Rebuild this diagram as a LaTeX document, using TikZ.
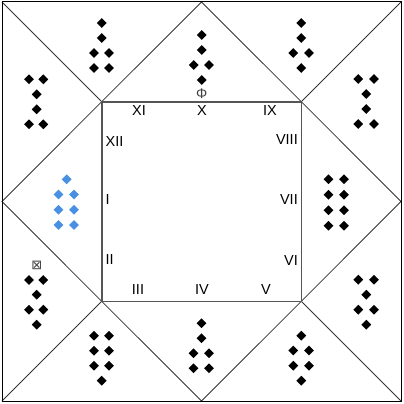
\documentclass[tikz,border=0pt]{standalone}
\usepackage{fontspec}
\setmainfont{Liberation Sans}
\newfontfamily\symfont{DejaVu Sans}
\usetikzlibrary{shapes.geometric}
\definecolor{pipblue}{RGB}{74,144,226}
\definecolor{rimgray}{RGB}{85,85,85}

\begin{document}
\begin{tikzpicture}[x=1pt, y=-1pt,
  every node/.style={font=\fontsize{14.5}{16}\selectfont},
  pip/.style={diamond, fill=black, inner sep=0pt, minimum size=10pt},
  bluepip/.style={pip, fill=pipblue},
  hour/.style={inner sep=0pt},
  mark sign/.style={inner sep=0pt, text=black!75},
  fold/.style={draw=black!80, line width=0.8pt},
  rim/.style={draw=rimgray, line width=1.6pt},
  frame/.style={draw=black, line width=1pt}]
\useasboundingbox (0,0) rectangle (404,404);

\coordinate (o-tl) at (2,2);
\coordinate (o-tr) at (401,2);
\coordinate (o-br) at (401,401);
\coordinate (o-bl) at (2,401);
\coordinate (m-n) at (201.5,2);
\coordinate (m-e) at (401,201.5);
\coordinate (m-s) at (201.5,401);
\coordinate (m-w) at (2,201.5);
\coordinate (i-tl) at (101.7,101.7);
\coordinate (i-tr) at (301.3,101.7);
\coordinate (i-br) at (301.3,301.3);
\coordinate (i-bl) at (101.7,301.3);

\draw[fold] (m-w) -- (i-tl) -- (m-n) -- (i-tr) -- (m-e) -- (i-br) -- (m-s) -- (i-bl) -- cycle;
\draw[fold] (o-tl) -- (i-tl) (o-tr) -- (i-tr) (o-br) -- (i-br) (o-bl) -- (i-bl);
\draw[rim] (i-tl) rectangle (i-br);
\draw[frame] (o-tl) rectangle (o-br);

\node[hour] (h11) at (139,111) {XI};
\node[hour] (h10) at (202,111) {X};
\node[hour] (h9) at (270,111) {IX};
\node[hour, anchor=west] (h12) at (105.5,141.5) {XII};
\node[hour, anchor=west] (h1) at (105.5,200) {I};
\node[hour, anchor=west] (h2) at (105.5,260) {II};
\node[hour] (h3) at (138,290) {III};
\node[hour] (h4) at (202,290) {IV};
\node[hour] (h5) at (266,290) {V};
\node[hour, anchor=east] (h6) at (298,261) {VI};
\node[hour, anchor=east] (h7) at (298,199.5) {VII};
\node[hour, anchor=east] (h8) at (298,139.5) {VIII};

\node[mark sign, font=\fontsize{14}{16}\selectfont] (phi) at (201.7,93.5) {Φ};
\node[mark sign, font=\symfont\fontsize{13}{15}\selectfont] (cross) at (36.7,265) {⊠};

\foreach \x/\y [count=\i] in {101.7/23,101.7/38,94/53,109/53,94/68,109/68}
  \node[pip] (nw\i) at (\x,\y) {};
\foreach \x/\y [count=\i] in {201.7/35,201.7/50,193.7/65,209/65,201.7/80}
  \node[pip] (n\i) at (\x,\y) {};
\foreach \x/\y [count=\i] in {301.3/23,301.3/38,293.3/53,309/53,301.3/68}
  \node[pip] (ne\i) at (\x,\y) {};
\foreach \x/\y [count=\i] in {358.3/79,374/79,366.3/94,366.3/109,358.3/124,374/124}
  \node[pip] (en\i) at (\x,\y) {};
\foreach \x/\y [count=\i] in {328.5/179.3,344/179.3,328.5/194.7,344/194.7,328.5/210.2,344/210.2,328.5/225.7,344/225.7}
  \node[pip] (e\i) at (\x,\y) {};
\foreach \x/\y [count=\i] in {358.3/279.7,374/279.7,366.3/294.7,358.3/309.7,374/309.7,366.3/324.7}
  \node[pip] (es\i) at (\x,\y) {};
\foreach \x/\y [count=\i] in {301.3/335.7,293.3/350.5,309/350.5,293.3/365.7,309/365.7,301.3/380.7}
  \node[pip] (se\i) at (\x,\y) {};
\foreach \x/\y [count=\i] in {201.5/323.3,201.5/338.3,193.5/353.3,209/353.3,193.5/368.3,209/368.3}
  \node[pip] (s\i) at (\x,\y) {};
\foreach \x/\y [count=\i] in {94/335.7,109/335.7,94/350.7,109/350.7,94/365.7,109/365.7,101.7/380.7}
  \node[pip] (sw\i) at (\x,\y) {};
\foreach \x/\y [count=\i] in {29/280,43.3/280,36.7/294.7,29/309.7,43.3/309.7,36.7/324.7}
  \node[pip] (ws\i) at (\x,\y) {};
\foreach \x/\y [count=\i] in {66.7/179.3,58.5/194.5,74/194.5,58.5/209.7,74/209.7,58.5/225,74/225}
  \node[bluepip] (w\i) at (\x,\y) {};
\foreach \x/\y [count=\i] in {29/79.3,43.3/79.3,36.7/94.3,36.7/109.3,29/124.3,43.3/124.3}
  \node[pip] (wn\i) at (\x,\y) {};
\end{tikzpicture}
\end{document}
